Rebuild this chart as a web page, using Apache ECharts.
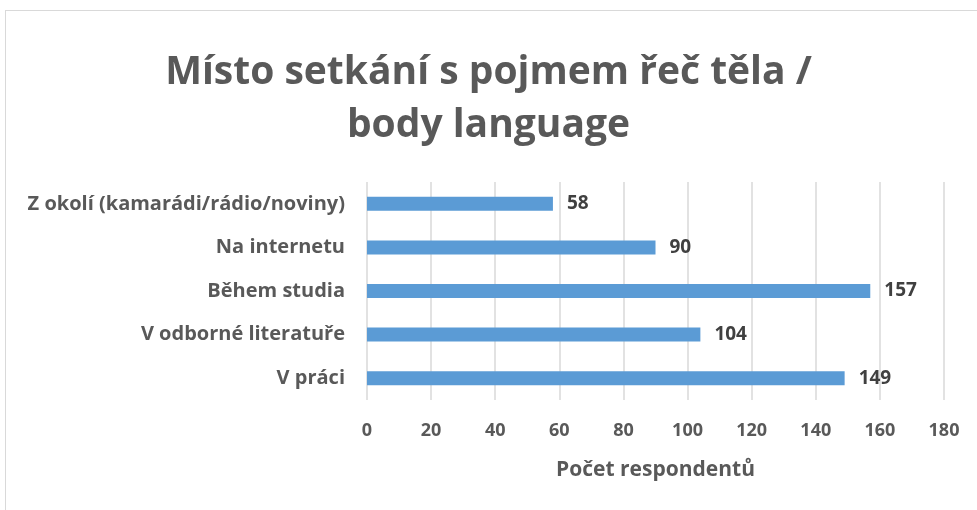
<!DOCTYPE html>
<html>
<head>
<meta charset="utf-8">
<script src="https://cdn.jsdelivr.net/npm/echarts@6/dist/echarts.min.js"></script>
<style>
  html, body { margin: 0; padding: 0; background: #fff; }
  #frame {
    position: absolute; left: 5px; top: 10px; width: 990px; height: 520px;
    border: 1px solid #d9d9d9; box-sizing: border-box;
  }
  #chart { position: absolute; left: 0; top: 0; width: 977px; height: 510px; }
</style>
</head>
<body>
<div id="frame"></div>
<div id="chart"></div>
<script>
// kategorie odshora dolů
const categories = [
  'Z okolí (kamarádi/rádio/noviny)',
  'Na internetu',
  'Během studia',
  'V odborné literatuře',
  'V práci'
];
const counts = [58, 90, 157, 104, 149];
const xTicks = [0, 180, 20]; // min, max, interval

const font = '"Open Sans", "Noto Sans", sans-serif';
const chart = echarts.init(document.getElementById('chart'));
const option = {
  animation: false,
  title: {
    text: 'Místo setkání s pojmem řeč těla /\nbody language',
    left: 'center',
    top: 41,
    textStyle: {
      fontFamily: font,
      fontSize: 39,
      fontWeight: 'bold',
      color: '#595959',
      lineHeight: 53
    }
  },
  grid: {
    left: 367,
    right: 33,
    top: 182,
    bottom: 110
  },
  xAxis: {
    type: 'value',
    min: xTicks[0],
    max: xTicks[1],
    interval: xTicks[2],
    name: 'Počet respondentů',
    nameLocation: 'middle',
    nameGap: 60,
    nameTextStyle: {
      fontFamily: font,
      fontSize: 21,
      fontWeight: 'bold',
      color: '#595959'
    },
    axisLine: { show: false },
    axisTick: { show: false },
    axisLabel: {
      margin: 22,
      fontFamily: font,
      fontSize: 18,
      fontWeight: 'bold',
      color: '#595959'
    },
    splitLine: { lineStyle: { color: '#d9d9d9', width: 1.5 } }
  },
  yAxis: {
    type: 'category',
    inverse: true,
    data: categories,
    axisLine: { show: false },
    axisTick: { show: false },
    axisLabel: {
      margin: 22,
      fontFamily: font,
      fontSize: 20,
      fontWeight: 'bold',
      color: '#595959'
    }
  },
  series: [
    {
      type: 'bar',
      data: counts,
      barWidth: 14,
      itemStyle: { color: '#5b9bd5' },
      label: {
        show: true,
        position: 'right',
        distance: 14,
        fontFamily: font,
        fontSize: 19,
        fontWeight: 'bold',
        color: '#404040'
      }
    }
  ]
};
chart.setOption(option);
</script>
</body>
</html>
